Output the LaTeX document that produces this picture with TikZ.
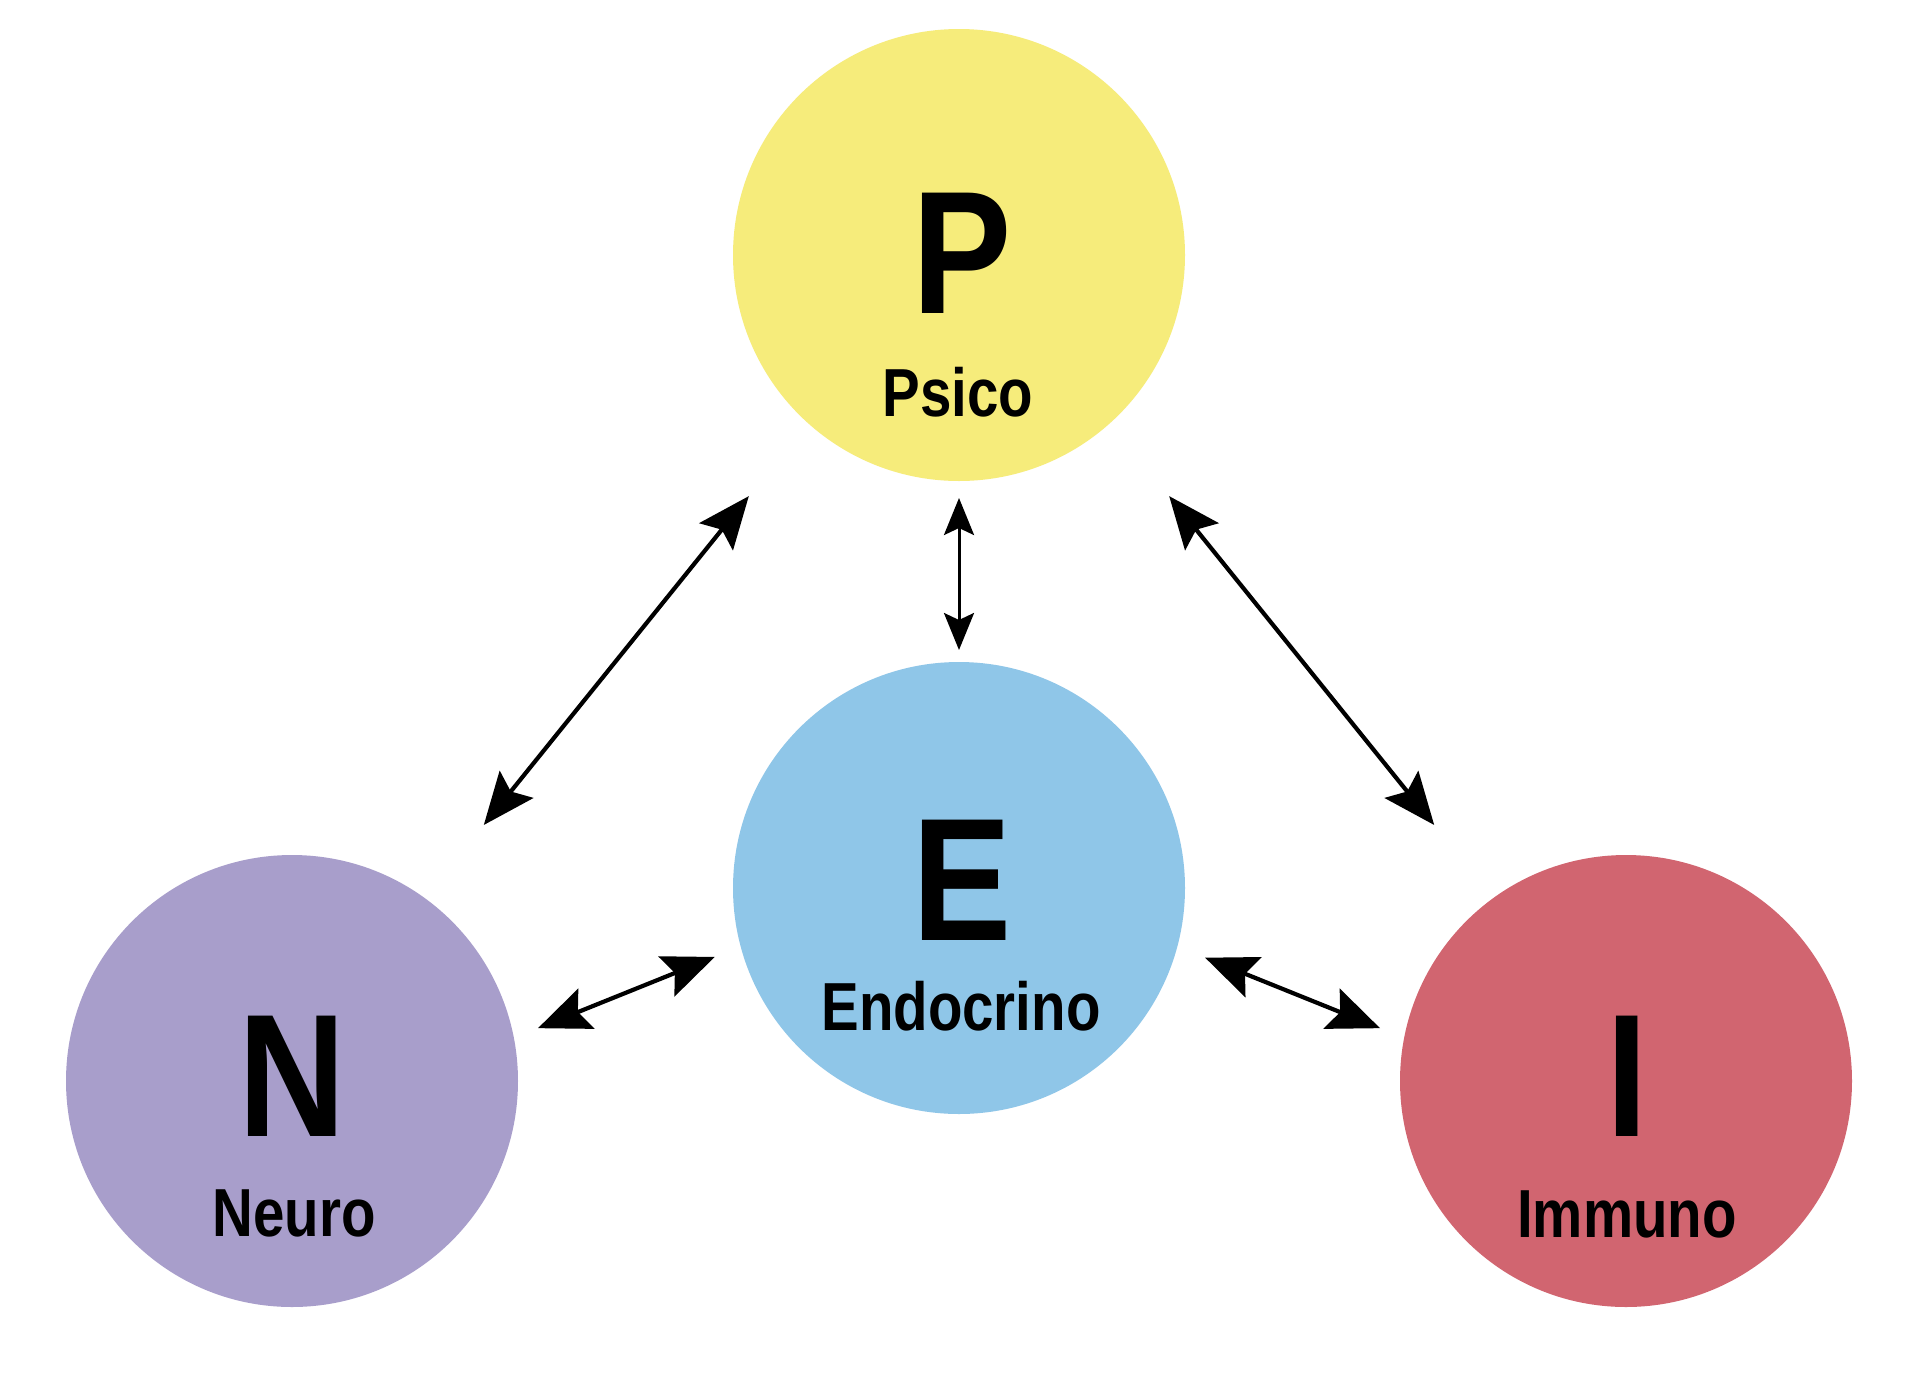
\documentclass[tikz,border=0pt]{standalone}
\usepackage{fontspec}
\newfontfamily\bigfont{Liberation Sans}[FakeStretch=0.85]
\newfontfamily\labelfont{Liberation Sans}[FakeStretch=0.83]
\usetikzlibrary{arrows.meta}
\definecolor{psicoyellow}{RGB}{246,236,123}
\definecolor{endoblue}{RGB}{143,198,232}
\definecolor{neuropurple}{RGB}{168,158,203}
\definecolor{immunored}{RGB}{209,101,112}
\tikzset{
  sys/.style={circle,minimum size=452pt,inner sep=0pt,outer sep=0pt},
  bigletter/.style={anchor=base,inner sep=0pt,font=\bigfont\bfseries\fontsize{175}{175}\selectfont},
  syslabel/.style={anchor=base,inner sep=0pt,font=\labelfont\bfseries\fontsize{68}{68}\selectfont},
  link/.style={line width=4.2pt,{Stealth[length=52pt,width=43pt,inset=9pt]}-{Stealth[length=52pt,width=43pt,inset=9pt]}},
  shortlink/.style={line width=3pt,{Stealth[length=37pt,width=30pt,inset=7pt]}-{Stealth[length=37pt,width=30pt,inset=7pt]}}
}
\begin{document}
\begin{tikzpicture}[x=1pt,y=-1pt,line join=miter]
  \fill[white] (0,0) rectangle (1920,1390);
  \useasboundingbox (0,0) rectangle (1920,1390);
  % the four systems
  \node[sys,fill=psicoyellow] (P) at (959,255) {};
  \node[sys,fill=endoblue] (E) at (959,888) {};
  \node[sys,fill=neuropurple] (N) at (292,1081) {};
  \node[sys,fill=immunored] (I) at (1626,1081) {};

  \node[bigletter] (Pbig) at (962,313) {P};
  \node[syslabel] (Plbl) at (958,416) {Psico};
  \node[bigletter] (Ebig) at (962,940) {E};
  \node[syslabel] (Elbl) at (961,1030) {Endocrino};
  \node[bigletter] (Nbig) at (292,1136) {N};
  \node[syslabel] (Nlbl) at (294,1236) {Neuro};
  \node[bigletter] (Ibig) at (1627,1136) {I};
  \node[syslabel] (Ilbl) at (1627,1237) {Immuno};

  % links
  \draw[link,shorten <=94pt,shorten >=94pt] (P.228) -- (N.54);
  \draw[link,shorten <=94pt,shorten >=94pt] (P.312) -- (I.126);
  \draw[shortlink,shorten <=17pt,shorten >=12pt] (P) -- (E);
  \draw[link,shorten <=26pt,shorten >=28pt] (N.11) -- (E.195);
  \draw[link,shorten <=30pt,shorten >=26pt] (E.345) -- (I.169);
\end{tikzpicture}
\end{document}
